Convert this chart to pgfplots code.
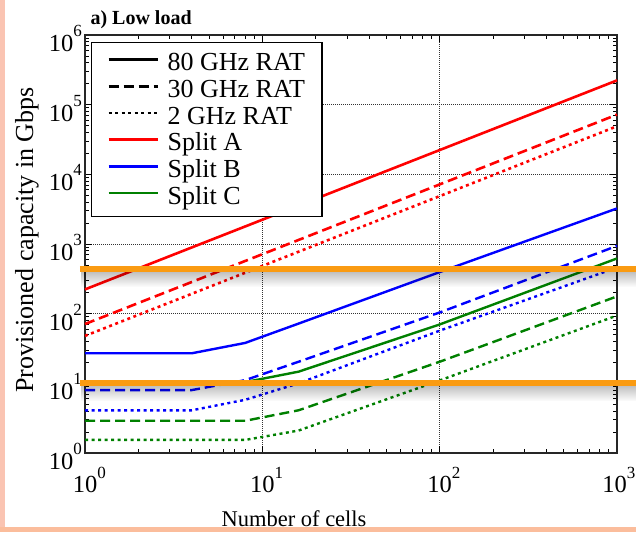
\documentclass[border=0pt]{standalone}
\usepackage{fontspec}
\setmainfont{Liberation Serif}
\usepackage{pgfplots}
\pgfplotsset{compat=1.18}
\usetikzlibrary{fadings}

\definecolor{pinkL}{HTML}{FAC4B2}
\definecolor{pinkB}{HTML}{FBBD9C}
\definecolor{orng}{HTML}{FA9B12}
\definecolor{grn}{HTML}{008000}

% tick labels: 10 with a raised exponent
\newcommand{\xl}[1]{10\rlap{\raisebox{14pt}{\fontsize{17}{17}\selectfont #1}}}
\newcommand{\yl}[1]{10\raisebox{15pt}{\fontsize{17}{17}\selectfont #1}}

\tikzset{
  dsh/.style={dash pattern=on 10pt off 5pt},
  dtt/.style={dash pattern=on 3pt off 3.5pt},
}

\begin{document}
\begin{tikzpicture}
\path[use as bounding box] (0,0) rectangle (636pt,532pt);
\fill[pinkL] (0,0) rectangle (5pt,532pt);
\fill[pinkB] (0,0.5pt) rectangle (636pt,5pt);
\begin{axis}[
  at={(85pt,79pt)}, anchor=south west,
  scale only axis, width=532pt, height=418pt,
  xmode=log, ymode=log,
  xmin=1, xmax=1000, ymin=1, ymax=1e6,
  xtick={1,10,100,1000},
  xticklabels={\xl{0},\xl{1},\xl{2},\hspace{-5pt}\xl{3}},
  ytick={1,10,100,1000,10000,100000,1000000},
  yticklabels={\yl{0},\yl{1},\yl{2},\yl{3},\yl{4},\yl{5},\yl{6}},
  xticklabel style={font=\fontsize{24.5}{24.5}\selectfont, anchor=base, inner sep=0pt, yshift=-39pt},
  yticklabel style={font=\fontsize{24.5}{24.5}\selectfont, anchor=base east, inner sep=0pt, xshift=-3pt, yshift=-16.5pt},
  axis line style={line width=1.2pt, black!85},
  every tick/.style={black, line width=0.8pt},
  major tick length=7pt, minor tick length=4pt,
  grid=major,
  major grid style={black!80, line width=0.8pt, dash pattern=on 1pt off 1pt},
  clip=false,
  legend style={at={(0.0113,0.9833)}, anchor=north west, draw=black, line width=1.3pt,
    inner xsep=17pt, inner ysep=7pt, font=\fontsize{26}{26}\selectfont,
    row sep=0pt, column sep=0pt,
    nodes={inner sep=0pt, text height=21pt, text depth=5.7pt, anchor=base west}},
  legend cell align=left,
  legend image code/.code={\path[draw=none] (0pt,0pt) -- (49pt,0pt);
    \draw[#1, line width=2.6pt, overlay] (0pt,11pt) -- (49pt,11pt);},
]
\addlegendimage{black}
\addlegendentry{\hspace{10pt}80 GHz RAT}
\addlegendimage{black,dsh}
\addlegendentry{\hspace{10pt}30 GHz RAT}
\addlegendimage{black,dtt}
\addlegendentry{\hspace{10pt}2 GHz RAT}
\addlegendimage{red}
\addlegendentry{\hspace{10pt}Split A}
\addlegendimage{blue}
\addlegendentry{\hspace{10pt}Split B}
\addlegendimage{grn}
\addlegendentry{\hspace{10pt}Split C}

% Split A
\addplot[red, line width=2.6pt, forget plot] coordinates {(1,223) (1000,223000)};
\addplot[red, dsh, line width=2.6pt, forget plot] coordinates {(1,71) (1000,72000)};
\addplot[red, dtt, line width=2.6pt, forget plot] coordinates {(1,48) (1000,49000)};
% Split B
\addplot[blue, line width=2.4pt, forget plot] coordinates {(1,27) (4,27) (8,38) (16,72) (100,395) (1000,3240)};
\addplot[blue, dsh, line width=2.4pt, forget plot] coordinates {(1,8) (4,8) (8,11.1) (16,20.4) (100,104) (1000,940)};
\addplot[blue, dtt, line width=2.4pt, forget plot] coordinates {(1,4.1) (4,4.1) (8,5.8) (16,10) (100,57) (1000,460)};
% Split C
\addplot[grn, line width=2.4pt, forget plot] coordinates {(1,10.4) (8,10.4) (16,14.7) (100,70) (1000,620)};
\addplot[grn, dsh, line width=2.4pt, forget plot] coordinates {(1,2.9) (8,2.9) (16,4.1) (100,20.4) (1000,177)};
\addplot[grn, dtt, line width=2.4pt, forget plot] coordinates {(1,1.54) (8,1.54) (16,2.1) (100,11) (1000,94)};

% highlight bars with shadow
\fill[black, opacity=0.25, path fading=south] (axis cs:0.95,400) rectangle (axis cs:1290,240);
\fill[black, opacity=0.25, path fading=south] (axis cs:0.95,9.3) rectangle (axis cs:1290,5.5);
\addplot[orng, line width=6pt, forget plot] coordinates {(0.937,432) (1290,432)};
\addplot[orng, line width=6pt, forget plot] coordinates {(0.937,10) (1290,10)};
\end{axis}
\node[anchor=base west, font=\bfseries\fontsize{20}{20}\selectfont] at (87pt,507pt) {a) Low load};
\node[rotate=90, anchor=base, font=\fontsize{26}{26}\selectfont] at (33pt,292pt) {Provisioned capacity in Gbps};
\node[anchor=base, font=\fontsize{22.5}{22.5}\selectfont] at (294pt,5.5pt) {Number of cells};
\end{tikzpicture}
\end{document}
